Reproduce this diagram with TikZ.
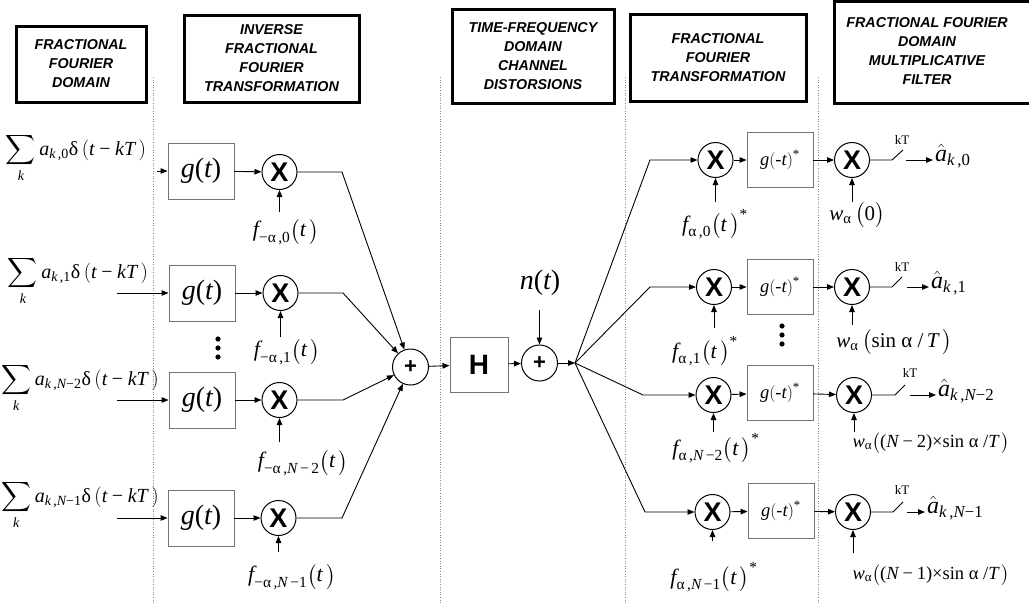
\documentclass[tikz,border=0pt]{standalone}
\usepackage{amsmath}
\usepackage{fontspec}
\setmainfont{Liberation Serif}
\newfontfamily\hfont{Liberation Sans}
\usetikzlibrary{arrows.meta}
\newcommand\tx[1]{\text{\normalfont #1}}
\newcommand\mi[1]{\text{\normalfont\itshape #1}}
\newcommand\ual{\tx{α}}
\newcommand\udl{\tx{δ}}
\newcommand\mm{\mathbin{\tx{−}}}
\newcommand\fsz[2]{\fontsize{#1}{#2}\selectfont}
\tikzset{
  hdrbox/.style={draw, line width=3pt, align=center, inner sep=0pt, font=\hfont\bfseries\itshape\fsz{14.3}{19}},
  hdrtxt/.style={align=center, inner sep=0pt, font=\hfont\bfseries\itshape\fsz{14.3}{19}},
  gbox/.style={draw=black!55, line width=0.9pt, minimum width=66pt, minimum height=56pt, inner sep=0pt, font=\fsz{28}{30}},
  gboxr/.style={draw=black!55, line width=0.9pt, minimum width=66pt, minimum height=55pt, inner sep=0pt, font=\fsz{18.5}{20}},
  hbox/.style={draw=black!55, line width=0.9pt, minimum width=58pt, minimum height=55pt, inner sep=0pt, font=\hfont\bfseries\fsz{28}{30}},
  mult/.style={circle, draw, line width=1pt, minimum size=35pt, inner sep=0pt, font=\hfont\bfseries\fsz{27}{27}},
  addr/.style={circle, draw, line width=1pt, minimum size=36pt, inner sep=0pt, font=\hfont\bfseries\fsz{22}{22}},
  lbl/.style={inner sep=0pt, font=\fsz{18.5}{20}},
  flbl/.style={inner sep=0pt, font=\fsz{22}{24}},
  wlbl/.style={inner sep=0pt, font=\fsz{21}{24}},
  suml/.style={inner sep=0pt, font=\fsz{20}{22}},
  hatl/.style={inner sep=0pt, font=\fsz{24}{26}},
  ktl/.style={inner sep=0pt, font=\fsz{13}{14}},
  wire/.style={line width=0.9pt},
  conn/.style={line width=0.9pt, -{Triangle[length=7pt,width=5.5pt]}},
  sepl/.style={draw=black!45, dotted, line width=0.6pt},
  dotf/.style={fill=black}
}
\begin{document}
\begin{tikzpicture}[x=1pt,y=-1pt]
\useasboundingbox (0,0) rectangle (1029,603);
\fill[white] (0,0) rectangle (1029,603);
% separators
\draw[sepl] (153,77) -- (153,603);
\draw[sepl] (440,77) -- (440,603);
\draw[sepl] (625,77) -- (625,603);
\draw[sepl] (818,77) -- (818,603);
% headers
\node[hdrbox, minimum width=130pt, minimum height=76pt] (h1) at (81,64) {FRACTIONAL\\FOURIER\\DOMAIN};
\node[hdrbox, minimum width=175pt, minimum height=87pt] (h2) at (271.5,58.5) {INVERSE\\FRACTIONAL\\FOURIER\\TRANSFORMATION};
\node[hdrbox, minimum width=162pt, minimum height=94pt] (h3) at (533,56) {TIME-FREQUENCY\\DOMAIN\\CHANNEL\\DISTORSIONS};
\node[hdrbox, minimum width=176pt, minimum height=87pt] (h4) at (718,57.5) {FRACTIONAL\\FOURIER\\TRANSFORMATION};
\draw[line width=3pt] (834,1.5) rectangle (1045,103);
\node[hdrtxt] (h5) at (927,51) {FRACTIONAL FOURIER\\DOMAIN\\MULTIPLICATIVE\\FILTER};
% ---------- left section ----------
\node[suml] (s0) at (76,158) {$\displaystyle\sum_{\mi{k}} \mi{a}_{\mi{k}\tx{\,,0}}\udl\left(\mi{t}\mm\mi{kT}\,\right)$};
\node[suml] (s1) at (78,281) {$\displaystyle\sum_{\mi{k}} \mi{a}_{\mi{k}\tx{\,,1}}\udl\left(\mi{t}\mm\mi{kT}\,\right)$};
\node[suml] (s2) at (80,388) {$\displaystyle\sum_{\mi{k}} \mi{a}_{\mi{k}\tx{\,,}\mi{N}\tx{−2}}\udl\left(\mi{t}\mm\mi{kT}\,\right)$};
\node[suml] (s3) at (80,505) {$\displaystyle\sum_{\mi{k}} \mi{a}_{\mi{k}\tx{\,,}\mi{N}\tx{−1}}\udl\left(\mi{t}\mm\mi{kT}\,\right)$};
\coordinate (i0) at (157,171);
\coordinate (i1) at (117,293);
\coordinate (i2) at (117,400);
\coordinate (i3) at (117,518);
\node[gbox] (g0) at (201,171) {\itshape g\upshape(\itshape t\upshape)};
\node[gbox] (g1) at (202,293) {\itshape g\upshape(\itshape t\upshape)};
\node[gbox] (g2) at (202,400) {\itshape g\upshape(\itshape t\upshape)};
\node[gbox] (g3) at (201,518) {\itshape g\upshape(\itshape t\upshape)};
\node[mult] (m0) at (279.5,172) {X};
\node[mult] (m1) at (280.5,293) {X};
\node[mult] (m2) at (279.5,400) {X};
\node[mult] (m3) at (278.5,518) {X};
\node[flbl] (fl0) at (286,232) {$\mi{f}_{\tx{−α\,,0}}\bigl(\mi{t}\,\bigr)$};
\node[flbl] (fl1) at (287,352) {$\mi{f}_{\tx{−α\,,1}}\bigl(\mi{t}\,\bigr)$};
\node[flbl] (fl2) at (303,463) {$\mi{f}_{\tx{−α\,,}\mi{N}\tx{\,−\,2}}\bigl(\mi{t}\,\bigr)$};
\node[flbl] (fl3) at (292,577) {$\mi{f}_{\tx{−α\,,}\mi{N}\tx{\,−1}}\bigl(\mi{t}\,\bigr)$};
\coordinate (ft0) at (279.5,212);
\coordinate (ft1) at (280.5,337);
\coordinate (ft2) at (279.5,442);
\coordinate (ft3) at (278.5,552);
\foreach \r in {0,1,2,3}{
  \draw[conn] (i\r) -- (g\r);
  \draw[conn] (g\r) -- (m\r);
  \draw[conn] (ft\r) -- (m\r.south);
}
\fill[dotf] (218,339) circle (2.6) (218,348) circle (2.6) (218,357) circle (2.6);
% adder 1, H, adder 2
\node[addr] (a1) at (410.5,367) {+};
\node[hbox] (H) at (479,364.5) {H};
\node[addr] (a2) at (539.5,363) {+};
\node[lbl, font=\fsz{28}{30}] (nt) at (540,283) {\itshape n\upshape(\itshape t\upshape)};
\coordinate (nt0) at (539.5,310);
\coordinate (o0) at (342,172);
\coordinate (o1) at (343,293);
\coordinate (o2) at (343,400);
\coordinate (o3) at (342,518);
\foreach \r in {0,1,2,3}{
  \draw[conn] (m\r) -- (o\r) -- (a1);
}
\draw[conn] (a1) -- (H);
\draw[conn] (H) -- (a2);
\draw[conn] (nt0) -- (a2);
\coordinate (fp) at (575,363);
\draw[conn] (a2) -- (fp);
% ---------- right section ----------
\node[mult] (c0) at (715.5,160) {X};
\node[mult] (c1) at (714,287) {X};
\node[mult] (c2) at (713.5,395) {X};
\node[mult] (c3) at (712.5,512) {X};
\node[gboxr] (b0) at (780,160) {$\mi{g}(\tx{-}\mi{t})^{\tx{*}}$};
\node[gboxr] (b1) at (780,287) {$\mi{g}(\tx{-}\mi{t})^{\tx{*}}$};
\node[gboxr] (b2) at (780,393) {$\mi{g}(\tx{-}\mi{t})^{\tx{*}}$};
\node[gboxr] (b3) at (781,511) {$\mi{g}(\tx{-}\mi{t})^{\tx{*}}$};
\node[mult] (d0) at (852,160) {X};
\node[mult] (d1) at (852,287) {X};
\node[mult] (d2) at (854,395) {X};
\node[mult] (d3) at (853,512) {X};
\coordinate (k0) at (650,160);
\coordinate (k1) at (650,287);
\coordinate (k2) at (643,395);
\coordinate (k3) at (645,512);
\foreach \r in {0,1,2,3}{
  \draw[conn] (fp) -- (k\r) -- (c\r);
  \draw[conn] (c\r) -- (b\r);
  \draw[conn] (b\r) -- (d\r);
}
\fill[dotf] (782,326) circle (2.6) (782,335) circle (2.6) (782,344) circle (2.6);
% conj. kernels labels
\node[flbl] (fr0) at (715,224) {$\mi{f}_{\tx{α\,,0}}\bigl(\mi{t}\,\bigr)^{\tx{*}}$};
\node[flbl] (fr1) at (705,351) {$\mi{f}_{\tx{α\,,1}}\bigl(\mi{t}\,\bigr)^{\tx{*}}$};
\node[flbl] (fr2) at (716,448) {$\mi{f}_{\tx{α\,,}\mi{N}\tx{\,−2}}\bigl(\mi{t}\,\bigr)^{\tx{*}}$};
\node[flbl] (fr3) at (714,577) {$\mi{f}_{\tx{α\,,}\mi{N}\tx{\,−1}}\bigl(\mi{t}\,\bigr)^{\tx{*}}$};
\coordinate (fq0) at (715.5,202);
\coordinate (fq1) at (714,328);
\coordinate (fq2) at (713.5,432);
\coordinate (fq3) at (712.5,541);
% filter weights
\node[wlbl] (w0) at (857,215) {$\mi{w}_{\ual}\,\bigl(\tx{0}\bigr)$};
\node[wlbl] (w1) at (894,342) {$\mi{w}_{\ual}\,\bigl(\tx{sin α /\,}\mi{T}\,\bigr)$};
\node[lbl] (w2) at (931,443) {$\mi{w}_{\ual}\bigl(\tx{(}\mi{N}\mm\tx{2)×sin α /}\mi{T}\,\bigr)$};
\node[lbl] (w3) at (931,575) {$\mi{w}_{\ual}\bigl(\tx{(}\mi{N}\mm\tx{1)×sin α /}\mi{T}\,\bigr)$};
\coordinate (wq0) at (852,202);
\coordinate (wq1) at (852,325);
\coordinate (wq2) at (854,432);
\coordinate (wq3) at (853,553);
\foreach \r in {0,1,2,3}{
  \draw[conn] (fq\r) -- (c\r.south);
  \draw[conn] (wq\r) -- (d\r.south);
}
% samplers
\coordinate (sa0) at (892,160); \coordinate (sb0) at (903,150); \coordinate (sc0) at (906,160);
\coordinate (sa1) at (892,287); \coordinate (sb1) at (902,277); \coordinate (sc1) at (907,287);
\coordinate (sa2) at (895,395); \coordinate (sb2) at (905,385); \coordinate (sc2) at (910,395);
\coordinate (sa3) at (893,512); \coordinate (sb3) at (903,502); \coordinate (sc3) at (907,512);
\node[ktl] (kt0) at (902,140) {kT};
\node[ktl] (kt1) at (902,267) {kT};
\node[ktl] (kt2) at (910,373) {kT};
\node[ktl] (kt3) at (902,490) {kT};
\node[hatl, anchor=west] (ah0) at (935,156) {$\hat{\mi{a}}_{\mi{k}\tx{\,,0}}$};
\node[hatl, anchor=west] (ah1) at (931,283) {$\hat{\mi{a}}_{\mi{k}\tx{\,,1}}$};
\node[hatl, anchor=west] (ah2) at (938,391) {$\hat{\mi{a}}_{\mi{k}\tx{\,,}\mi{N}\tx{−2}}$};
\node[hatl, anchor=west] (ah3) at (927,508) {$\hat{\mi{a}}_{\mi{k}\tx{\,,}\mi{N}\tx{−1}}$};
\foreach \r in {0,1,2,3}{
  \draw[wire] (d\r) -- (sa\r) -- (sb\r);
  \draw[conn] (sc\r) -- ([xshift=-2pt]ah\r.west |- sc\r);
}
\end{tikzpicture}
\end{document}
